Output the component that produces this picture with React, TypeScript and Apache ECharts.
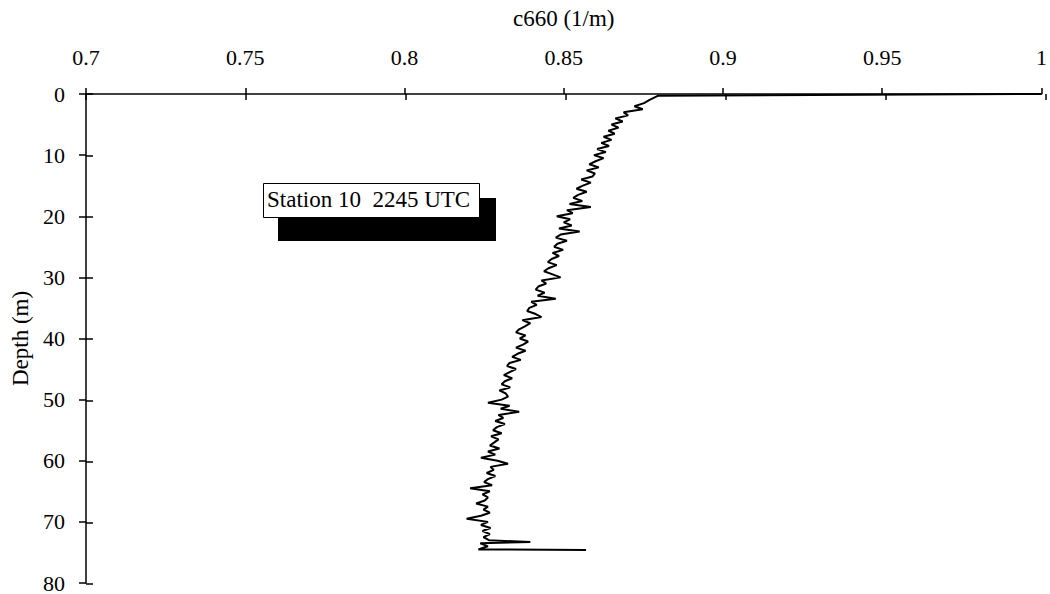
import React, { useEffect, useRef } from "react";
import * as echarts from "echarts";

const xTitle = "c660 (1/m)";
const yTitle = "Depth (m)";
const stationLabel = "Station 10  2245 UTC";

const xMin = 0.7;
const xMax = 1;
const xStep = 0.05;
const yMin = 0;
const yMax = 80;
const yStep = 10;

// depth (m)
const depth = [
  0.0, 0.3, 1.0, 1.5, 2.0, 2.5, 3.0, 3.5, 4.0, 4.5, 5.0, 5.5, 6.0, 6.5, 7.0, 7.5, 8.0, 8.5, 9.0, 9.5,
  10.0, 10.5, 11.0, 11.5, 12.0, 12.5, 13.0, 13.5, 14.0, 14.5, 15.0, 15.5, 16.0, 16.5, 17.0, 17.5, 18.0, 18.5, 19.0, 19.5,
  20.0, 20.5, 21.0, 21.5, 22.0, 22.5, 23.0, 23.5, 24.0, 24.5, 25.0, 25.5, 26.0, 26.5, 27.0, 27.5, 28.0, 28.5, 29.0, 29.5,
  30.0, 30.5, 31.0, 31.5, 32.0, 32.5, 33.0, 33.5, 34.0, 34.5, 35.0, 35.5, 36.0, 36.5, 37.0, 37.5, 38.0, 38.5, 39.0, 39.5,
  40.0, 40.5, 41.0, 41.5, 42.0, 42.5, 43.0, 43.5, 44.0, 44.5, 45.0, 45.5, 46.0, 46.5, 47.0, 47.5, 48.0, 48.5, 49.0, 49.5,
  50.0, 50.5, 51.0, 51.5, 52.0, 52.5, 53.0, 53.5, 54.0, 54.5, 55.0, 55.5, 56.0, 56.5, 57.0, 57.5, 58.0, 58.5, 59.0, 59.5,
  60.0, 60.5, 61.0, 61.5, 62.0, 62.5, 63.0, 63.5, 64.0, 64.5, 65.0, 65.5, 66.0, 66.5, 67.0, 67.5, 68.0, 68.5, 69.0, 69.5,
  70.0, 70.5, 71.0, 71.5, 72.0, 72.5, 73.0, 73.3, 73.5, 74.0, 74.5, 74.6,
];

// c660 (1/m)
const c660 = [
  1.0, 0.8795, 0.8768, 0.8752, 0.8722, 0.8748, 0.8688, 0.8702, 0.8662, 0.8685, 0.865, 0.8672, 0.864, 0.866, 0.8625, 0.865, 0.8618, 0.8642, 0.8605, 0.8632,
  0.8595, 0.8625, 0.86, 0.858, 0.861, 0.8572, 0.8598, 0.859, 0.8555, 0.8585, 0.856, 0.854, 0.8572, 0.8545, 0.853, 0.8558, 0.8518, 0.8585, 0.851, 0.8528,
  0.8478, 0.852, 0.85, 0.8525, 0.8485, 0.855, 0.849, 0.8475, 0.851, 0.848, 0.847, 0.8498, 0.8465, 0.8485, 0.8462, 0.845, 0.8478, 0.8452, 0.8438, 0.8465,
  0.849, 0.843, 0.8445, 0.842, 0.8412, 0.844, 0.8418, 0.8475, 0.8398, 0.8415, 0.8392, 0.8385, 0.8412, 0.843, 0.837, 0.8395, 0.8378, 0.836, 0.835, 0.838,
  0.8362, 0.8388, 0.8372, 0.835, 0.838, 0.8355, 0.8338, 0.8365, 0.833, 0.8322, 0.835, 0.833, 0.8312, 0.8338, 0.8315, 0.8305, 0.8332, 0.8298, 0.8318, 0.8325,
  0.8305, 0.8262, 0.833, 0.8302, 0.836, 0.8295, 0.831, 0.8285, 0.8315, 0.829, 0.8278, 0.8305, 0.8272, 0.8295, 0.8282, 0.8268, 0.8298, 0.8262, 0.8285, 0.824,
  0.8292, 0.8325, 0.827, 0.828, 0.8258, 0.8285, 0.8262, 0.825, 0.8275, 0.8206, 0.8268, 0.8245, 0.8262, 0.8252, 0.8225, 0.8262, 0.8248, 0.8268, 0.824, 0.8195,
  0.8262, 0.824, 0.827, 0.8245, 0.8268, 0.8248, 0.8265, 0.8395, 0.8238, 0.8262, 0.8232, 0.857,
];

const FONT = "'Liberation Serif', 'Times New Roman', serif";

export default function App() {
  const ref = useRef<HTMLDivElement>(null);
  useEffect(() => {
    if (!ref.current) return;
    const chart = echarts.init(ref.current, null, { renderer: "svg" });
    const data = depth.map((d, i) => [c660[i], d]);
    const gridLeft = 86;
    const gridTop = 94;
    const gridW = 960;
    const gridH = 490;
    const axisLineStyle = { color: "#000", width: 1.5 };
    const hiddenValue = (gridIndex: number) => ({
      type: "value",
      gridIndex,
      show: false,
      min: 0,
      max: 1,
    });
    chart.setOption({
      animation: false,
      backgroundColor: "#fff",
      textStyle: { fontFamily: FONT, color: "#000" },
      grid: [
        { left: gridLeft, top: gridTop, width: gridW, height: gridH, containLabel: false },
        { left: gridLeft, top: gridTop - 0.5, width: gridW, height: 0.5, containLabel: false },
        { left: gridLeft - 0.5, top: gridTop, width: 0.5, height: gridH, containLabel: false },
      ],
      xAxis: [
        {
          type: "value",
          gridIndex: 0,
          position: "top",
          min: xMin,
          max: xMax,
          interval: xStep,
          name: xTitle,
          nameLocation: "middle",
          nameGap: 64,
          nameTextStyle: { fontFamily: FONT, fontSize: 23, color: "#000" },
          axisLine: { show: true, onZero: false, lineStyle: axisLineStyle },
          axisTick: { show: true, length: 6, lineStyle: axisLineStyle },
          axisLabel: { margin: 26, fontFamily: FONT, fontSize: 22, color: "#000" },
          splitLine: { show: false },
        },
        {
          type: "value",
          gridIndex: 1,
          position: "bottom",
          min: xMin,
          max: xMax,
          interval: xStep,
          axisLine: { show: false, onZero: false },
          axisTick: { show: true, length: 6, lineStyle: axisLineStyle },
          axisLabel: { show: false },
          splitLine: { show: false },
        },
        hiddenValue(2),
      ],
      yAxis: [
        {
          type: "value",
          gridIndex: 0,
          position: "left",
          inverse: true,
          min: yMin,
          max: yMax,
          interval: yStep,
          name: yTitle,
          nameLocation: "middle",
          nameGap: 52,
          nameRotate: 90,
          nameTextStyle: { fontFamily: FONT, fontSize: 23, color: "#000" },
          axisLine: { show: true, onZero: false, lineStyle: axisLineStyle },
          axisTick: { show: true, length: 7, lineStyle: axisLineStyle },
          axisLabel: { margin: 21, fontFamily: FONT, fontSize: 22, color: "#000" },
          splitLine: { show: false },
        },
        hiddenValue(1),
        {
          type: "value",
          gridIndex: 2,
          position: "right",
          inverse: true,
          min: yMin,
          max: yMax,
          interval: yStep,
          axisLine: { show: false, onZero: false },
          axisTick: { show: true, length: 7, lineStyle: axisLineStyle },
          axisLabel: { show: false },
          splitLine: { show: false },
        },
      ],
      series: [
        {
          type: "line",
          xAxisIndex: 0,
          yAxisIndex: 0,
          data,
          showSymbol: false,
          symbol: "none",
          clip: true,
          lineStyle: { color: "#000", width: 2 },
        },
      ],
      graphic: [
        {
          type: "rect",
          left: 278,
          top: 198,
          shape: { width: 218, height: 43 },
          style: { fill: "#000" },
          z: 10,
        },
        {
          type: "rect",
          left: 263,
          top: 183,
          shape: { width: 216, height: 34 },
          style: { fill: "#fff", stroke: "#000", lineWidth: 1 },
          z: 11,
        },
        {
          type: "text",
          left: 267,
          top: 188,
          style: { text: stationLabel, font: `23px ${FONT}`, fill: "#000" },
          z: 12,
        },
      ],
    });
    return () => chart.dispose();
  }, []);
  return (
    <div
      ref={ref}
      style={{ position: "fixed", left: 0, top: 0, width: 1050, height: 594, background: "#fff" }}
    />
  );
}
